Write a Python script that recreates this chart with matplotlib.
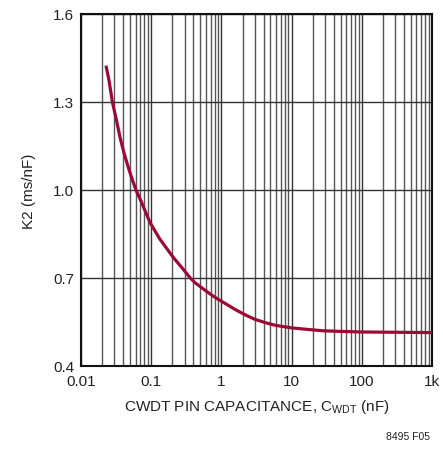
import matplotlib
matplotlib.use("Agg")
import matplotlib.pyplot as plt
from matplotlib.ticker import FixedLocator, NullFormatter, LogLocator

plt.rcParams['font.family'] = ['Liberation Sans', 'DejaVu Sans']

# values
cap_nf = [0.0227, 0.025, 0.028, 0.032, 0.036, 0.041, 0.0472, 0.0535, 0.0607, 0.0732,
          0.0962, 0.1334, 0.2065, 0.27, 0.357, 0.421, 0.617, 0.811, 1.0, 1.56, 2.2,
          3.01, 4.2, 5.8, 10, 16.4, 28.3, 50, 100, 300, 1000]
k2 = [1.424, 1.375, 1.300, 1.238, 1.179, 1.126, 1.077, 1.037, 1.000, 0.957,
      0.889, 0.832, 0.770, 0.737, 0.701, 0.684, 0.654, 0.634, 0.621, 0.593, 0.574,
      0.559, 0.548, 0.539, 0.530, 0.525, 0.520, 0.518, 0.516, 0.515, 0.514]

xticks = [0.01, 0.1, 1, 10, 100, 1000]
xticklabels = ['0.01', '0.1', '1', '10', '100', '1k']
yticks = [0.4, 0.7, 1.0, 1.3, 1.6]
yticklabels = ['0.4', '0.7', '1.0', '1.3', '1.6']

fig = plt.figure(figsize=(4.43, 4.52), dpi=100)
ax = fig.add_axes([81 / 443, 85 / 452, 351 / 443, 352 / 452])

ax.set_xscale('log')
ax.set_xlim(0.01, 1000)
ax.set_ylim(0.4, 1.6)

ax.xaxis.set_major_locator(FixedLocator(xticks))
ax.set_xticklabels(xticklabels)
ax.xaxis.set_minor_locator(LogLocator(base=10, subs=range(2, 10)))
ax.xaxis.set_minor_formatter(NullFormatter())
ax.set_yticks(yticks)
ax.set_yticklabels(yticklabels)

ax.grid(True, which='major', axis='both', color='#333333', linewidth=1.0)
ax.grid(True, which='minor', axis='x', color='#555555', linewidth=1.0)
ax.tick_params(which='both', length=0, labelsize=11, colors='#222222')
ax.tick_params(axis='x', pad=6)
ax.tick_params(axis='y', pad=5)

ax.plot(cap_nf, k2, color='#9a0a35', linewidth=2.3, solid_capstyle='butt', zorder=3)

for s in ax.spines.values():
    s.set_linewidth(1.5)
    s.set_color('#111111')

ax.set_ylabel('K2 (ms/nF)', fontsize=11, color='#222222', labelpad=12)
ax.set_xlabel('CWDT PIN CAPACITANCE, C$_{\\mathregular{WDT}}$ (nF)', fontsize=11,
              color='#222222', labelpad=6)

fig.text(430 / 443, 1 - 437 / 452, '8495 F05', fontsize=7.5, ha='right', va='center',
         color='#222222')

fig.savefig('out.png', dpi=100)
